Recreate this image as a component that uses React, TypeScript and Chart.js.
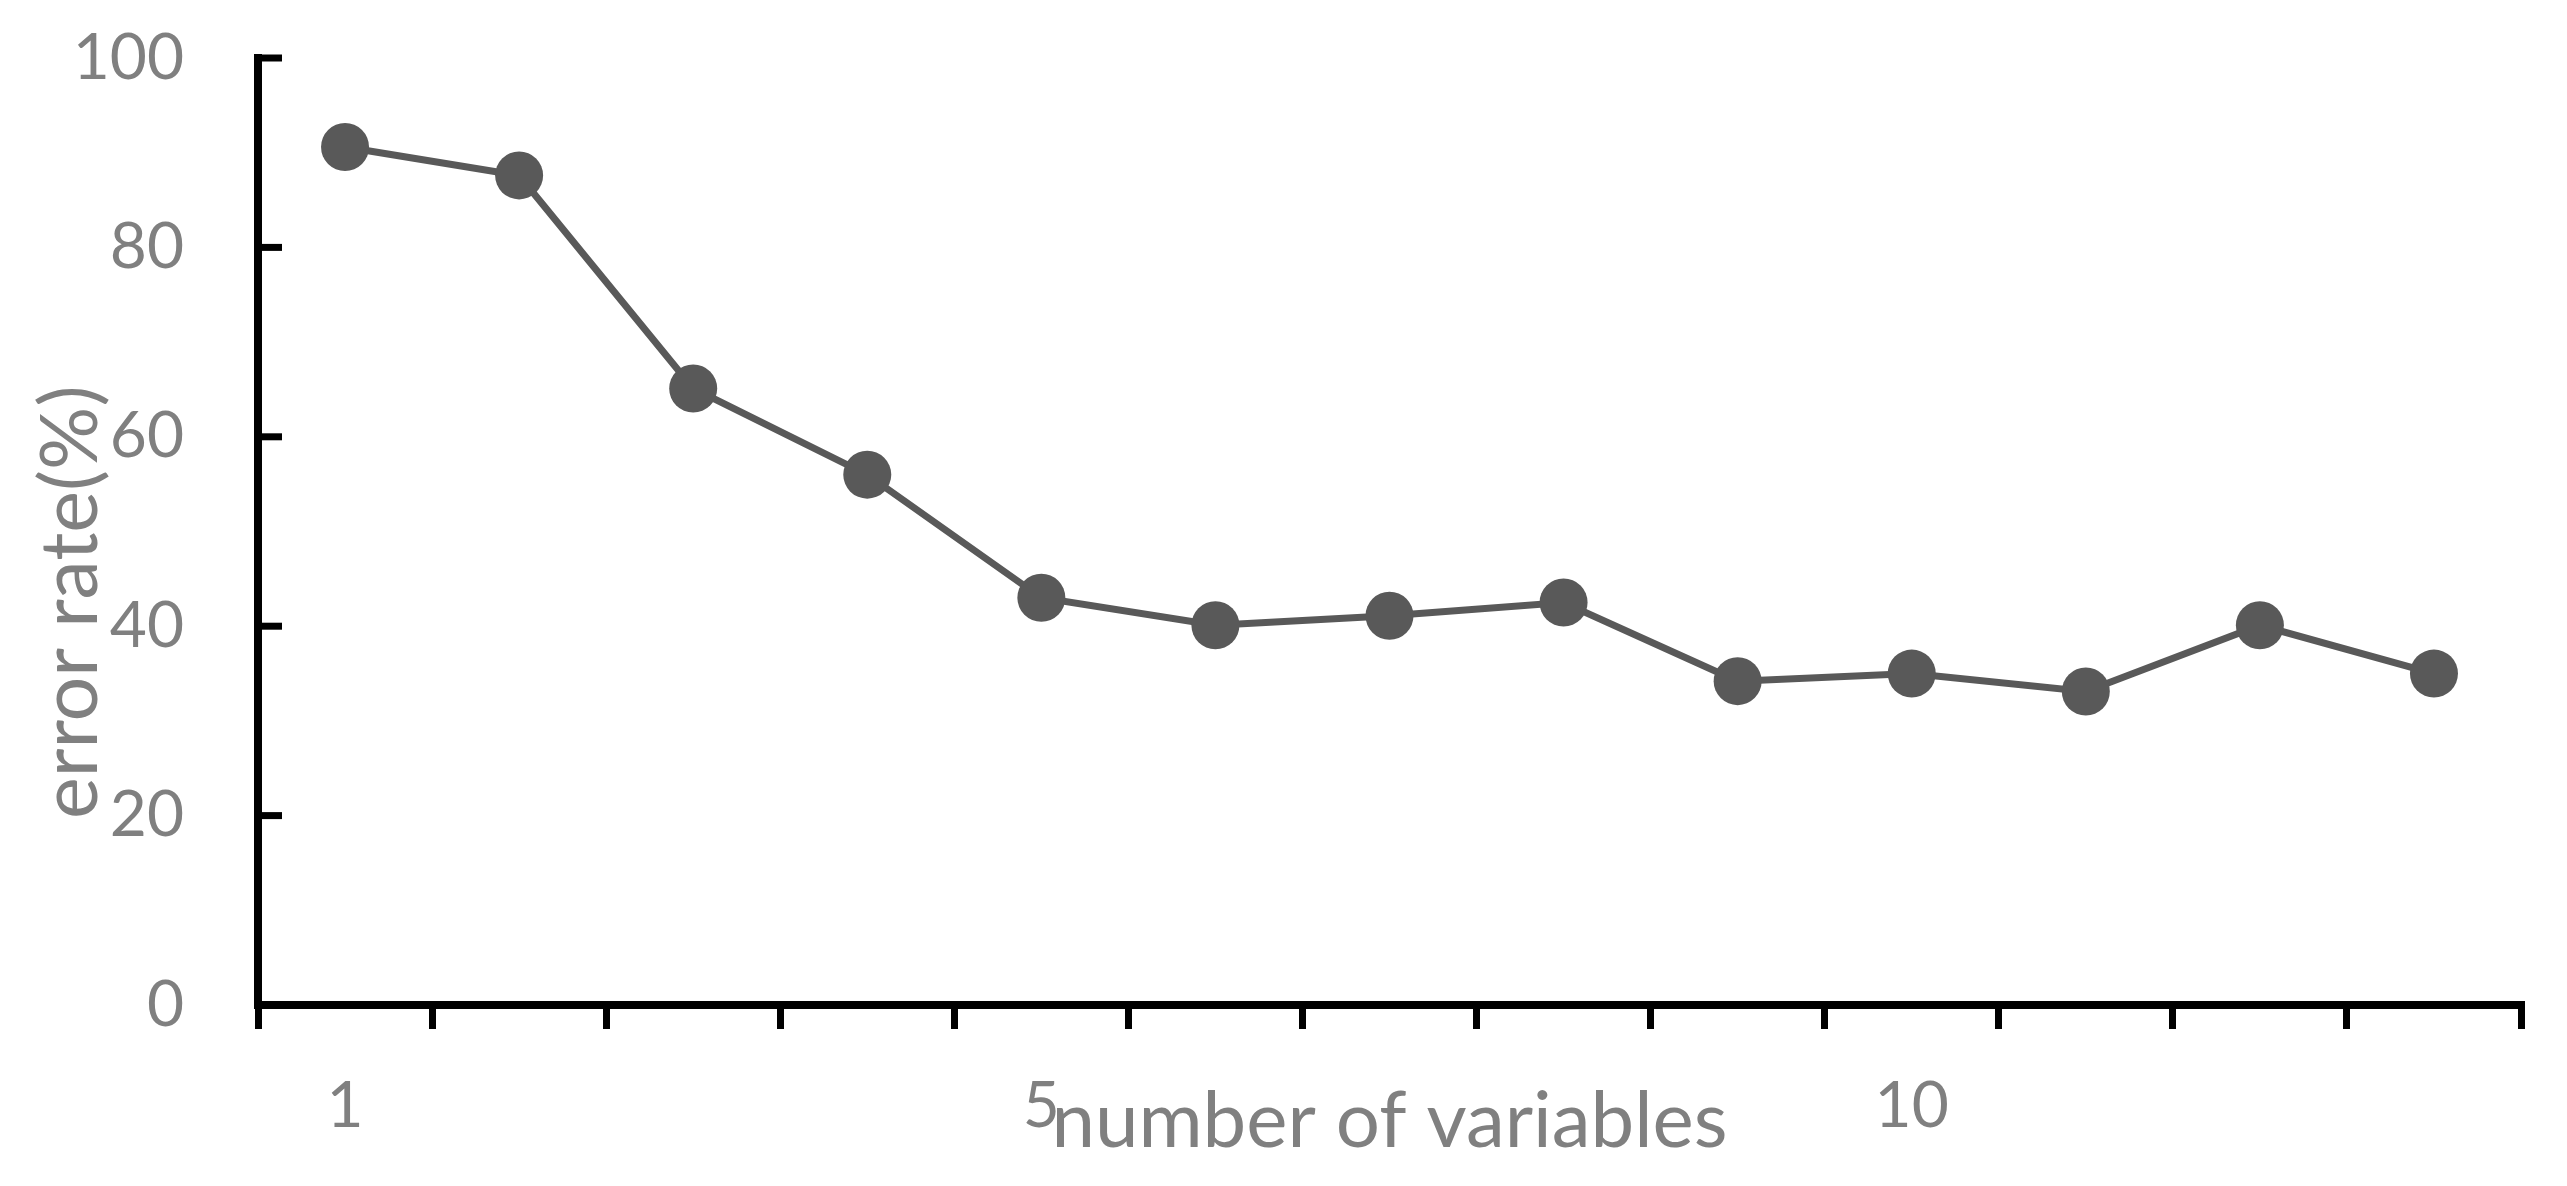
import React, { useEffect, useRef } from 'react';
import { Chart, registerables } from 'chart.js';

Chart.register(...registerables);

const categories = ['1', '2', '3', '4', '5', '6', '7', '8', '9', '10', '11', '12', '13'];
const errorRate = [90.6, 87.6, 65.1, 56, 43, 40.1, 41.1, 42.5, 34.2, 35, 33.1, 40.1, 35];
const shownTickLabels = ['1', '5', '10'];
const yMin = 0;
const yMax = 100;
const yStep = 20;
const xTitle = 'number of variables';
const yTitle = 'error rate(%)';

const W = 2567;
const H = 1186;
const FONT = 'Lato';
const GREY = '#808080';

const innerYTicks = {
  id: 'innerYTicks',
  beforeDatasetsDraw(chart: any) {
    const y = chart.scales.y;
    const { ctx, chartArea } = chart;
    ctx.save();
    ctx.strokeStyle = '#000';
    ctx.lineWidth = 7;
    y.ticks.forEach((t: any) => {
      if (t.value === y.min) return;
      const py = y.getPixelForValue(t.value);
      ctx.beginPath();
      ctx.moveTo(chartArea.left, py);
      ctx.lineTo(chartArea.left + 24, py);
      ctx.stroke();
    });
    ctx.restore();
  },
};

export default function App() {
  const ref = useRef<HTMLCanvasElement | null>(null);

  useEffect(() => {
    document.body.style.margin = '0';
    const canvas = ref.current!;
    const chart = new Chart(canvas, {
      type: 'line',
      data: {
        labels: categories,
        datasets: [
          {
            data: errorRate,
            borderColor: '#595959',
            backgroundColor: '#595959',
            borderWidth: 7,
            pointRadius: 24,
            pointBorderWidth: 0,
            pointBackgroundColor: '#595959',
            tension: 0,
          },
        ],
      },
      options: {
        responsive: false,
        animation: false,
        devicePixelRatio: 1,
        layout: { padding: { top: 58, right: 46, left: 0, bottom: 0 } },
        plugins: { legend: { display: false }, tooltip: { enabled: false } },
        scales: {
          x: {
            type: 'category',
            offset: true,
            grid: {
              display: true,
              offset: true,
              drawOnChartArea: false,
              drawTicks: true,
              tickLength: 24,
              color: '#000',
              lineWidth: 7,
            },
            border: { display: true, color: '#000', width: 8 },
            ticks: {
              autoSkip: false,
              maxRotation: 0,
              minRotation: 0,
              padding: 39,
              color: GREY,
              font: { family: FONT, size: 64 },
              callback: (_v: any, i: number) =>
                shownTickLabels.includes(categories[i]) ? categories[i] : '',
            },
            title: {
              display: true,
              text: xTitle,
              color: GREY,
              font: { family: FONT, size: 78 },
              padding: { top: 0, bottom: 17 },
            },
            afterFit: (s: any) => {
              s.height = 181;
              s.paddingLeft = 0;
              s.paddingRight = 0;
            },
          },
          y: {
            min: yMin,
            max: yMax,
            grid: { display: false, drawTicks: false },
            border: { display: true, color: '#000', width: 8 },
            ticks: {
              stepSize: yStep,
              padding: 74,
              color: GREY,
              font: { family: FONT, size: 64 },
            },
            title: {
              display: true,
              text: yTitle + '\u00a0'.repeat(7),
              color: GREY,
              font: { family: FONT, size: 79 },
              padding: { top: 24, bottom: 0 },
            },
            afterFit: (s: any) => {
              s.width = 258;
              s.paddingTop = 0;
              s.paddingBottom = 0;
            },
          },
        },
      },
      plugins: [innerYTicks],
    });
    return () => chart.destroy();
  }, []);

  return (
    <div style={{ position: 'fixed', left: 0, top: 0, width: W, height: H, background: '#fff' }}>
      <canvas ref={ref} width={W} height={H} style={{ width: W, height: H, display: 'block' }} />
    </div>
  );
}
